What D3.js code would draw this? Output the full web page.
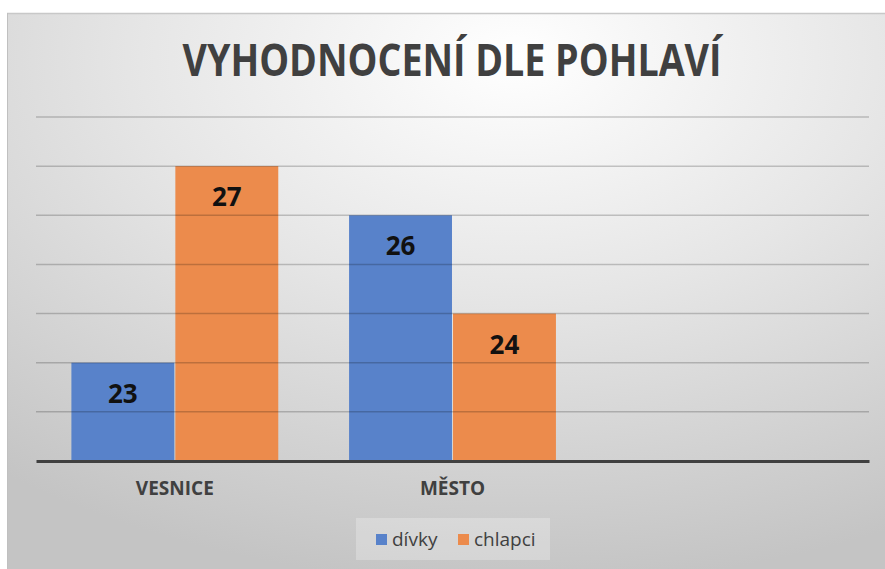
<!DOCTYPE html>
<html>
<head>
<meta charset="utf-8">
<script src="https://cdn.jsdelivr.net/npm/d3@7"></script>
<style>
  body { margin: 0; background: #fff; }
  svg { display: block; font-family: 'Open Sans', sans-serif; }
</style>
</head>
<body>
<svg id="chart" width="885" height="569"></svg>
<script>
const categories = ['VESNICE', 'MĚSTO', '']
const seriesNames = ['dívky', 'chlapci']
const divky = [23, 26, null]
const chlapci = [27, 24, null]
const colors = ['#5882ca', '#ec8b4c']
const yTicks = [21, 22, 23, 24, 25, 26, 27, 28]

const svg = d3.select('#chart')
const defs = svg.append('defs')

const grad = defs.append('radialGradient')
  .attr('id', 'bg')
  .attr('cx', 0.58).attr('cy', 0.08).attr('r', 0.95)
grad.append('stop').attr('offset', 0).attr('stop-color', '#ffffff')
grad.append('stop').attr('offset', 0.45).attr('stop-color', '#e6e6e6')
grad.append('stop').attr('offset', 1).attr('stop-color', '#c4c4c4')

// chart area
svg.append('rect')
  .attr('x', 7).attr('y', 13).attr('width', 878).attr('height', 556)
  .attr('fill', 'url(#bg)')
svg.append('line')
  .attr('x1', 7).attr('x2', 885).attr('y1', 13.5).attr('y2', 13.5)
  .attr('stroke', '#c8c8c8').attr('stroke-width', 1.5)
svg.append('line')
  .attr('x1', 7.5).attr('x2', 7.5).attr('y1', 13).attr('y2', 569)
  .attr('stroke', '#c0c0c0').attr('stroke-width', 1)

svg.append('text')
  .attr('x', 452).attr('y', 76)
  .attr('text-anchor', 'middle')
  .attr('font-size', 45).attr('font-weight', 700)
  .attr('fill', '#404040')
  .attr('textLength', 539).attr('lengthAdjust', 'spacingAndGlyphs')
  .text('VYHODNOCENÍ DLE POHLAVÍ')

const x = d3.scaleBand().domain(categories).range([36, 869])
const groupW = x.bandwidth() * 0.745
const x1 = d3.scaleBand().domain(seriesNames).range([0, groupW]).paddingInner(0.01)
const y = d3.scaleLinear().domain([21, 28]).range([461, 117])

const rows = categories.map((c, i) => ({ cat: c, values: [divky[i], chlapci[i]] }))

const groups = svg.append('g').attr('class', 'bars')
  .selectAll('g')
  .data(rows)
  .enter().append('g')
  .attr('transform', d => `translate(${x(d.cat) + (x.bandwidth() - groupW) / 2},0)`)

groups.selectAll('rect')
  .data(d => d.values.map((v, i) => ({ name: seriesNames[i], v, i })).filter(d => d.v != null))
  .enter().append('rect')
  .attr('x', d => x1(d.name))
  .attr('width', x1.bandwidth())
  .attr('y', d => y(d.v))
  .attr('height', d => y(21) - y(d.v))
  .attr('fill', d => colors[d.i])

// gridlines on top, faint
svg.append('g').attr('class', 'grid')
  .selectAll('line')
  .data(yTicks.slice(1))
  .enter().append('line')
  .attr('x1', 36).attr('x2', 869)
  .attr('y1', d => y(d)).attr('y2', d => y(d))
  .attr('stroke', '#000').attr('stroke-opacity', 0.2).attr('stroke-width', 1.5)

groups.selectAll('text.val')
  .data(d => d.values.map((v, i) => ({ name: seriesNames[i], v, i })).filter(d => d.v != null))
  .enter().append('text')
  .attr('class', 'val')
  .attr('x', d => x1(d.name) + x1.bandwidth() / 2)
  .attr('y', d => y(d.v) + 40)
  .attr('text-anchor', 'middle')
  .attr('font-size', 26).attr('font-weight', 700)
  .attr('fill', '#111')
  .text(d => d.v)

// baseline axis
const xAxis = svg.append('g')
  .attr('transform', `translate(0,${y(21)})`)
  .call(d3.axisBottom(x).tickSize(0).tickPadding(21))
xAxis.select('.domain').attr('stroke', '#404040').attr('stroke-width', 3)
xAxis.selectAll('text')
  .attr('font-family', 'Open Sans, sans-serif')
  .attr('font-size', 19).attr('font-weight', 700)
  .attr('fill', '#404040')

// legend
const legend = svg.append('g').attr('class', 'legend')
legend.append('rect')
  .attr('x', 356).attr('y', 518).attr('width', 194).attr('height', 42)
  .attr('fill', '#fff').attr('fill-opacity', 0.25)
const legendX = [376, 458]
seriesNames.forEach((name, i) => {
  legend.append('rect')
    .attr('x', legendX[i]).attr('y', 534).attr('width', 11).attr('height', 11)
    .attr('fill', colors[i])
  legend.append('text')
    .attr('x', legendX[i] + 16).attr('y', 546)
    .attr('font-size', 19).attr('fill', '#404040')
    .text(name)
})
</script>
</body>
</html>
